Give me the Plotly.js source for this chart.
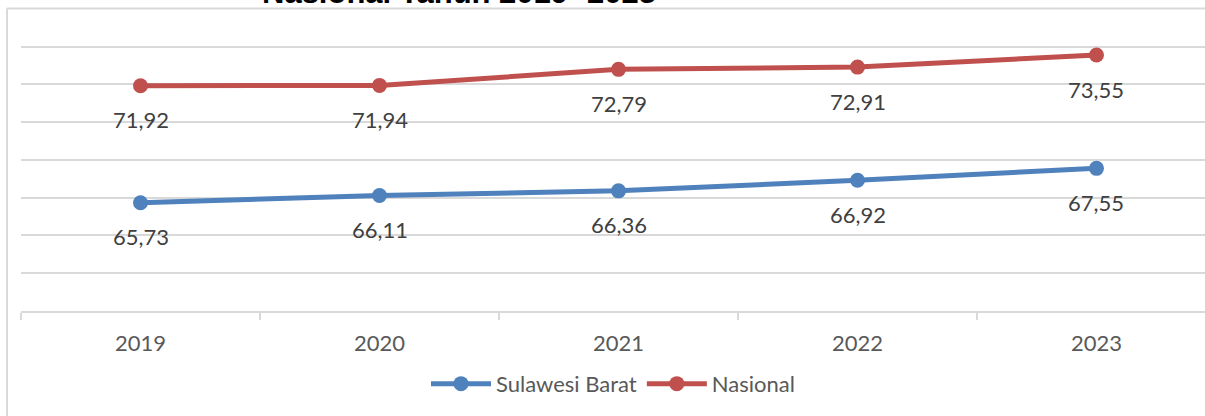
<!DOCTYPE html>
<html>
<head>
<meta charset="utf-8">
<script src="https://cdn.plot.ly/plotly-3.0.1.min.js"></script>
<style>html,body{margin:0;padding:0;background:#fff;}#chart{width:1205px;height:416px;}</style>
</head>
<body>
<div id="chart"></div>
<script>
const years = ['2019', '2020', '2021', '2022', '2023'];
const sulbar = [65.73, 66.11, 66.36, 66.92, 67.55];
const nasional = [71.92, 71.94, 72.79, 72.91, 73.55];
const seriesNames = ['Sulawesi Barat', 'Nasional'];
const titleText = 'Nasional Tahun 2019- 2023';

const blue = '#4f81bd', red = '#c0504d';
const fmt = v => v.toFixed(2).replace('.', ',');
const FONT = 'Lato, "Open Sans", sans-serif';

const traces = [
  {x: years, y: sulbar, name: seriesNames[0], type: 'scatter', mode: 'lines+markers',
   line: {color: blue, width: 5}, marker: {color: blue, size: 15}},
  {x: years, y: nasional, name: seriesNames[1], type: 'scatter', mode: 'lines+markers',
   line: {color: red, width: 5}, marker: {color: red, size: 15}}
];

const annotations = [];
[sulbar, nasional].forEach(arr => {
  arr.forEach((v, i) => annotations.push({
    x: i, y: v, xref: 'x', yref: 'y', text: fmt(v), showarrow: false,
    xanchor: 'center', yanchor: 'middle',
    yshift: -34, font: {family: FONT, size: 22, color: '#404040'}
  }));
});
annotations.push({
  x: 0.37, xref: 'paper', y: 1.168, yref: 'paper', yanchor: 'middle', xanchor: 'center',
  text: '<b>' + titleText + '</b>', showarrow: false,
  font: {family: '"Liberation Sans", Arial, sans-serif', size: 31, color: '#000'}
});

const layout = {
  width: 1205, height: 416,
  margin: {l: 21, r: 0, t: 38, b: 105},
  paper_bgcolor: '#fff', plot_bgcolor: '#fff',
  showlegend: true,
  legend: {orientation: 'h', x: 0.5, xanchor: 'center', y: -0.19, yanchor: 'top',
           font: {family: FONT, size: 22, color: '#595959'}, itemwidth: 60},
  xaxis: {type: 'category', range: [-0.5, 4.454], showgrid: false,
          showline: true, linecolor: '#d9d9d9', linewidth: 2,
          ticks: 'outside', tickson: 'boundaries', ticklen: 7, tickcolor: '#d9d9d9', tickwidth: 2,
          tickfont: {family: FONT, size: 22, color: '#595959'}, ticklabelstandoff: 12,
          fixedrange: true},
  yaxis: {range: [60, 74.45], dtick: 2, tick0: 60, showgrid: true, gridcolor: '#d9d9d9', gridwidth: 2,
          showticklabels: false, zeroline: false, showline: false, fixedrange: true},
  annotations: annotations,
  shapes: [
    {type: 'line', xref: 'paper', yref: 'paper', x0: -0.0118, x1: 1.01, y0: 1.108, y1: 1.108,
     line: {color: '#d9d9d9', width: 2}},
    {type: 'line', xref: 'paper', yref: 'paper', x0: -0.0118, x1: -0.0118, y0: 1.108, y1: -0.45,
     line: {color: '#d9d9d9', width: 2}}
  ]
};

Plotly.newPlot('chart', traces, layout, {displayModeBar: false, staticPlot: true});
</script>
</body>
</html>
